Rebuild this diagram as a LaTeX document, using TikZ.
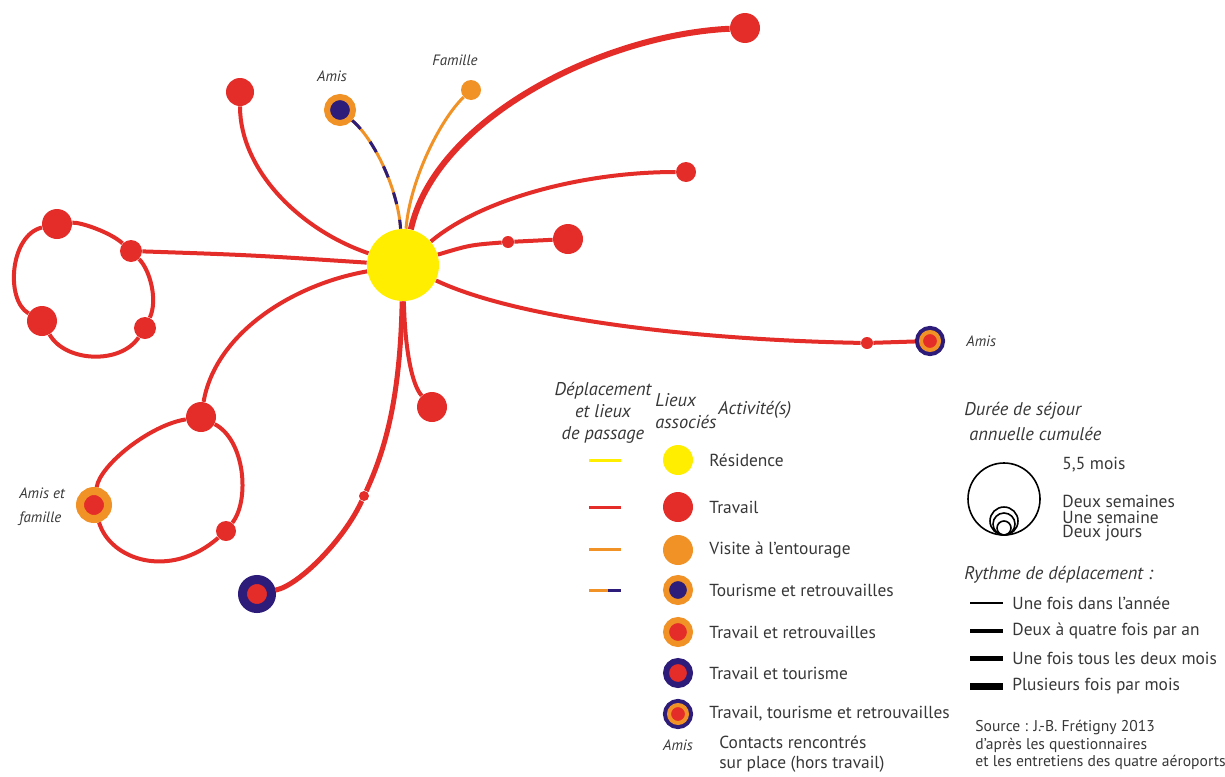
\documentclass[tikz,border=0pt]{standalone}
\usepackage{fontspec}
\setmainfont{PT Sans}
\usetikzlibrary{backgrounds}

\definecolor{rouge}{RGB}{228,44,40}
\definecolor{jaune}{RGB}{255,238,0}
\definecolor{orangeclair}{RGB}{241,146,38}
\definecolor{indigo}{RGB}{46,28,122}
\definecolor{texte}{RGB}{55,55,55}

\tikzset{
  lieu/.style={circle, inner sep=0pt, minimum size=#1, fill=rouge},
  anneau/.style 2 args={circle, inner sep=0pt, minimum size=#1, line width=#2},
  trajet/.style={draw=rouge, line width=2pt},
  legende/.style={font=\fontsize{8.7}{11}\selectfont, text=texte, anchor=west, inner sep=0pt},
  titre/.style={font=\fontsize{9.2}{11}\selectfont\itshape, text=texte, inner sep=0pt},
  etiquette/.style={font=\fontsize{7.5}{12}\selectfont\itshape, text=texte, inner sep=0pt}
}

\begin{document}
\begin{tikzpicture}[x=0.5pt, y=-0.5pt]
\useasboundingbox (0,0) rectangle (1225,776);

%% residence and places
\node[lieu=36pt, fill=jaune] (res) at (403,265) {};
\node[lieu=15pt] (tHautD) at (745,28) {};
\node[lieu=14pt] (tHautG) at (240,92) {};
\node[lieu=10pt] (tDroite) at (686,172) {};
\node[lieu=15pt] (tMilieu) at (568,239) {};
\node[lieu=6pt] (pMilieu) at (508,242) {};
\node[lieu=6pt] (pDroite) at (867,343) {};
\node[anneau={9pt}{2pt}, fill=rouge, draw=orangeclair,
      preaction={draw=indigo, line width=6pt}] (amisD) at (930,341) {};
\node[lieu=15pt] (tBas) at (432,407) {};
\node[lieu=5pt] (pBas) at (364,496) {};
\node[anneau={14.5pt}{4.5pt}, fill=rouge, draw=indigo] (tourB) at (257,594) {};
\node[anneau={13pt}{3pt}, fill=indigo, draw=orangeclair] (amisH) at (340,110) {};
\node[lieu=10pt, fill=orangeclair] (famille) at (471,90) {};

%% first loop
\node[lieu=11pt] (b1a) at (131,251) {};
\node[lieu=15pt] (b1b) at (57,224) {};
\node[lieu=15pt] (b1c) at (42,321) {};
\node[lieu=11pt] (b1d) at (145,328) {};

%% second loop
\node[lieu=15pt] (b2a) at (201,417) {};
\node[anneau={14pt}{4pt}, fill=rouge, draw=orangeclair] (b2b) at (94,505) {};
\node[lieu=10pt] (b2c) at (226,531) {};

\begin{scope}[on background layer]
  \draw[trajet, line width=3pt] (res) .. controls (435,120) and (600,35) .. (tHautD);
  \draw[trajet] (res) .. controls (300,230) and (240,170) .. (tHautG);
  \draw[trajet] (res) .. controls (480,200) and (580,172) .. (tDroite);
  \draw[trajet] (res) .. controls (470,245) .. (pMilieu) -- (tMilieu);
  \draw[trajet] (res) .. controls (520,320) and (700,340) .. (pDroite) -- (amisD);
  \draw[trajet] (res) .. controls (405,350) and (412,385) .. (tBas);
  \draw[trajet, line width=2.5pt] (res) .. controls (400,400) and (385,450) .. (pBas)
        .. controls (345,538) and (300,585) .. (tourB);
  \draw[trajet] (res) .. controls (250,255) .. (b1a);
  \draw[trajet] (res) .. controls (290,285) and (215,335) .. (b2a);
  % loops
  \draw[trajet] (b1a) .. controls (110,232) and (80,222) .. (b1b);
  \draw[trajet] (b1b) .. controls (10,235) and (5,300) .. (b1c);
  \draw[trajet] (b1c) .. controls (65,362) and (120,365) .. (b1d);
  \draw[trajet] (b1d) .. controls (158,300) and (150,270) .. (b1a);
  \draw[trajet] (b2a) .. controls (150,425) and (100,465) .. (b2b);
  \draw[trajet] (b2b) .. controls (110,560) and (170,580) .. (b2c);
  \draw[trajet] (b2c) .. controls (250,500) and (245,440) .. (b2a);
  % entourage
  \draw[draw=orangeclair, line width=1.5pt] (amisH) .. controls (375,140) and (398,190) .. (res);
  \draw[draw=indigo, line width=1.5pt, dash pattern=on 6pt off 8pt]
        (amisH) .. controls (375,140) and (398,190) .. (res);
  \draw[draw=orangeclair, line width=1.5pt] (famille) .. controls (440,120) and (410,180) .. (res);
\end{scope}

\node[etiquette] (lAmisH) at (332,76) {Amis};
\node[etiquette] (lFamille) at (455,60) {Famille};
\node[etiquette, anchor=west] (lAmisD) at (966,341) {Amis};
\node[etiquette, anchor=west, align=left] (lAmisF) at (19,507) {Amis et\\famille};

%% legend
\node[titre, align=center] (hDepl) at (603,413) {Déplacement\\et lieux\\de passage};
\node[titre, align=left, anchor=west] (hLieux) at (655,411) {Lieux\\associés};
\node[titre, anchor=west] (hAct) at (718,410) {Activité(s)};

\draw[jaune, line width=1.5pt] (589,460) -- (621,460);
\draw[rouge, line width=1.5pt] (589,507) -- (621,507);
\draw[orangeclair, line width=1.5pt] (589,549) -- (621,549);
\draw[orangeclair, line width=1.5pt] (589,590) -- (608,590);
\draw[indigo, line width=1.5pt] (608,590) -- (621,590);

\node[lieu=15pt, fill=jaune] (gRes) at (678,460) {};
\node[lieu=15pt] (gTrav) at (678,507) {};
\node[lieu=15pt, fill=orangeclair] (gVis) at (678,550) {};
\node[anneau={12pt}{3pt}, fill=indigo, draw=orangeclair] (gTour) at (678,590) {};
\node[anneau={12pt}{3pt}, fill=rouge, draw=orangeclair] (gTrRe) at (678,632) {};
\node[anneau={12pt}{3pt}, fill=rouge, draw=indigo] (gTrTo) at (678,673) {};
\node[anneau={9pt}{2pt}, fill=rouge, draw=orangeclair,
      preaction={draw=indigo, line width=6pt}] (gTous) at (678,714) {};

\node[legende] at (709,460) {Résidence};
\node[legende] at (709,507) {Travail};
\node[legende] at (709,550) {Visite à l’entourage};
\node[legende] at (709,590) {Tourisme et retrouvailles};
\node[legende] at (709,632) {Travail et retrouvailles};
\node[legende] at (709,673) {Travail et tourisme};
\node[legende] at (709,714) {Travail, tourisme et retrouvailles};
\node[etiquette] at (678,745) {Amis};
\node[legende, font=\fontsize{8.7}{10}\selectfont, align=left] at (719,754) {Contacts rencontrés\\sur place (hors travail)};

%% duration
\node[titre, anchor=west] at (964,411) {Durée de séjour};
\node[titre, anchor=west] at (969,434) {annuelle cumulée};
\draw[line width=0.8pt] (1004,499) circle (36);
\draw[line width=0.8pt] (1004,521) circle (14);
\draw[line width=0.8pt] (1004,524) circle (11);
\draw[line width=0.8pt] (1004,528) circle (7);
\node[legende] at (1062,465) {5,5 mois};
\node[legende] at (1062,501) {Deux semaines};
\node[legende] at (1062,517) {Une semaine};
\node[legende] at (1062,533) {Deux jours};

%% rhythm
\node[titre, anchor=west] at (964,575) {Rythme de déplacement :};
\draw[line width=1pt] (970,603) -- (1003,603);
\draw[line width=1.75pt] (970,631) -- (1003,631);
\draw[line width=2.5pt] (970,658) -- (1003,658);
\draw[line width=3.5pt] (970,686) -- (1003,686);
\node[legende] at (1012,603) {Une fois dans l’année};
\node[legende] at (1012,631) {Deux à quatre fois par an};
\node[legende] at (1012,658) {Une fois tous les deux mois};
\node[legende] at (1012,686) {Plusieurs fois par mois};

\node[legende, font=\fontsize{7.8}{8.7}\selectfont, align=left] at (975,745)
  {Source : J.-B. Frétigny 2013\\d’après les questionnaires\\et les entretiens des quatre aéroports};
\end{tikzpicture}
\end{document}
